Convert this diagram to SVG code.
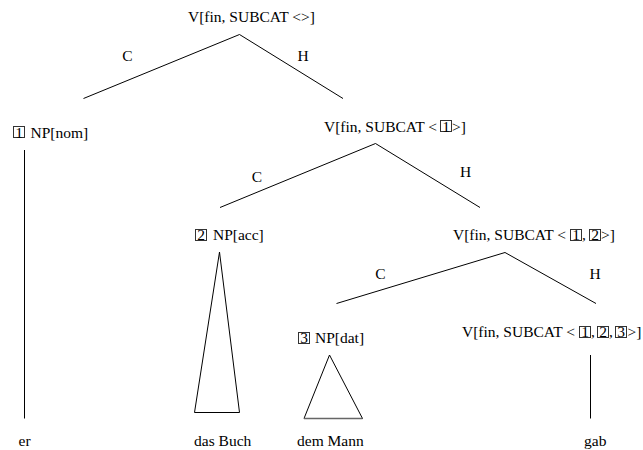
<svg xmlns="http://www.w3.org/2000/svg" width="643" height="450" viewBox="0 0 643 450">
  <style>
    text { font-family: 'Liberation Serif', 'Times New Roman', Times, 'DejaVu Serif', serif; font-size: 15.5px; fill: #000; }
    .d { text-anchor: middle; }
    .box { fill: none; stroke: #333; stroke-width: 1; }
    .e { fill: none; stroke: #000; stroke-width: 1; }
  </style>
  <rect width="643" height="450" fill="#fff"/>

  <g font-family="Liberation Serif, Times New Roman, serif" font-size="15.5">
  <!-- tree edges, head/complement marks and terminal triangles -->
  <g id="connectors">
    <line class="e" x1="239.5" y1="34.5" x2="83.5" y2="98.5"/>
    <line class="e" x1="239.5" y1="34.5" x2="343" y2="98.5"/>
    <line class="e" x1="375.5" y1="143.5" x2="220" y2="207.5"/>
    <line class="e" x1="375.5" y1="143.5" x2="480" y2="207.5"/>
    <line class="e" x1="505" y1="252.5" x2="336.5" y2="303.5"/>
    <line class="e" x1="505" y1="252.5" x2="596" y2="303.5"/>

    <text class="d" x="127.5" y="60.5">C</text>
    <text class="d" x="303" y="60.5">H</text>
    <text class="d" x="257" y="182">C</text>
    <text class="d" x="465.5" y="176.5">H</text>
    <text class="d" x="380.5" y="278.5">C</text>
    <text class="d" x="595" y="278.5">H</text>

    <line class="e" x1="24.5" y1="150" x2="24.5" y2="418.5"/>
    <polygon class="e" points="219.5,252 194.5,412.5 239.5,412.5"/>
    <polygon class="e" points="329.5,355 304,418.5 362.5,418.5"/>
    <line x1="304" y1="418.5" x2="362.5" y2="418.5" stroke="#666" stroke-width="1.6"/>
    <line class="e" x1="590.5" y1="355" x2="590.5" y2="418.5"/>
  </g>

  <g id="node-s">
    <text x="188" y="22">V[fin, SUBCAT &lt;&gt;]</text>
  </g>

  <g id="node-np-nom">
    <rect class="box" x="13.5" y="126.5" width="11" height="11"/>
    <text class="d" x="19" y="137.5">1</text>
    <text x="30.5" y="137.5">NP[nom]</text>
  </g>

  <g id="node-v1">
    <text x="324" y="131.5">V[fin, SUBCAT &lt;</text>
    <rect class="box" x="440.5" y="120.5" width="11" height="11"/>
    <text class="d" x="446" y="131.5">1</text>
    <text x="452" y="131.5">&gt;]</text>
  </g>

  <g id="node-np-acc">
    <rect class="box" x="195.5" y="229.5" width="11" height="11"/>
    <text class="d" x="201" y="240">2</text>
    <text x="213" y="240">NP[acc]</text>
  </g>

  <g id="node-v12">
    <text x="453" y="240">V[fin, SUBCAT &lt;</text>
    <rect class="box" x="570.5" y="229.5" width="11" height="11"/>
    <text class="d" x="576" y="240">1</text>
    <text x="582" y="240">,</text>
    <rect class="box" x="589.5" y="229.5" width="11" height="11"/>
    <text class="d" x="595" y="240">2</text>
    <text x="601" y="240">&gt;]</text>
  </g>

  <g id="node-np-dat">
    <rect class="box" x="298.5" y="332.5" width="11" height="11"/>
    <text class="d" x="304" y="343">3</text>
    <text x="315" y="343">NP[dat]</text>
  </g>

  <g id="node-v123">
    <text x="462" y="337">V[fin, SUBCAT &lt;</text>
    <rect class="box" x="579.5" y="326.5" width="11" height="11"/>
    <text class="d" x="585" y="337">1</text>
    <text x="591" y="337">,</text>
    <rect class="box" x="597.5" y="326.5" width="11" height="11"/>
    <text class="d" x="603" y="337">2</text>
    <text x="609" y="337">,</text>
    <rect class="box" x="615.5" y="326.5" width="11" height="11"/>
    <text class="d" x="621" y="337">3</text>
    <text x="627.5" y="337">&gt;]</text>
  </g>

  <g id="word-er"><text x="18.5" y="446">er</text></g>
  <g id="word-das-buch"><text x="194" y="446">das Buch</text></g>
  <g id="word-dem-mann"><text x="297" y="446">dem Mann</text></g>
  <g id="word-gab"><text x="584" y="446">gab</text></g>
  </g>
</svg>
